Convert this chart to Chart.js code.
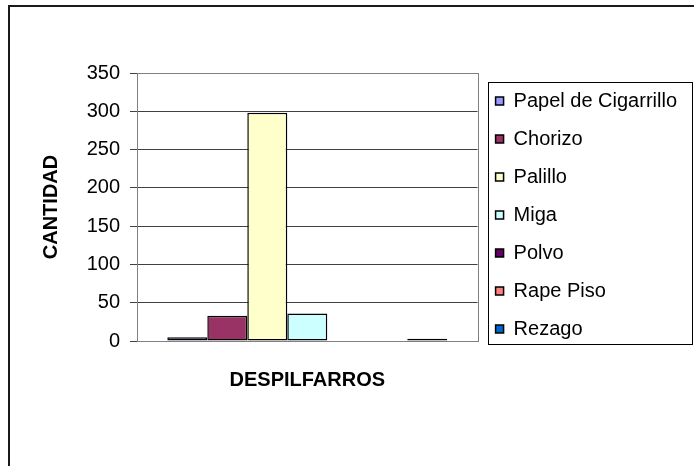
<!DOCTYPE html>
<html>
<head>
<meta charset="utf-8">
<script src="https://cdn.jsdelivr.net/npm/chart.js@4/dist/chart.umd.min.js"></script>
<style>
  html, body { margin: 0; padding: 0; background: #fff; }
</style>
</head>
<body>
<canvas id="graficoDespilfarros" width="694" height="466"></canvas>
<script>
// datos de la planilla
const categorias = [''];
const series = ['Papel de Cigarrillo', 'Chorizo', 'Palillo', 'Miga', 'Polvo', 'Rape Piso', 'Rezago'];
const cantidades = [5, 33, 298, 36, 0, 0, 3];
const colores = ['#9999ff', '#993366', '#ffffcc', '#ccffff', '#660066', '#ff8080', '#0066cc'];
const ticks_y = [0, 50, 100, 150, 200, 250, 300, 350];

Chart.defaults.font.family = '"Liberation Sans", Arial, sans-serif';
Chart.defaults.color = '#000';

// marco exterior, borde del area de trazado y caja de la leyenda
const marcos = {
    id: 'marcos',
    beforeDatasetsDraw(chart) {
        const {ctx, chartArea} = chart;
        ctx.save();
        ctx.strokeStyle = '#808080';
        ctx.lineWidth = 1;
        ctx.strokeRect(Math.round(chartArea.left) + 0.5, Math.round(chartArea.top) + 0.5,
            Math.round(chartArea.right - chartArea.left), Math.round(chartArea.bottom - chartArea.top));
        ctx.restore();
    },
    afterDraw(chart) {
        const {ctx, legend} = chart;
        ctx.save();
        ctx.strokeStyle = '#1a1a1a';
        ctx.lineWidth = 2;
        ctx.strokeRect(9, 6, 800, 600);

        const cajas = legend.legendHitBoxes;
        const primera = cajas[0];
        const ultima = cajas[cajas.length - 1];
        const x0 = Math.round(primera.left) - 8;
        const y0 = Math.round(primera.top) - 9;
        const y1 = Math.round(ultima.top + ultima.height) + 5;
        ctx.strokeStyle = '#000';
        ctx.lineWidth = 1;
        ctx.strokeRect(x0 + 0.5, y0 + 0.5, 692 - x0, y1 - y0);
        ctx.restore();
    }
};

const datasets = series.map((nombre, i) => ({
    label: nombre,
    data: [cantidades[i]],
    backgroundColor: colores[i],
    borderColor: '#000',
    borderWidth: 1.5,
    borderSkipped: false
}));

const ctx = document.getElementById('graficoDespilfarros').getContext('2d');
const grafico = new Chart(ctx, {
    type: 'bar',
    data: {
        labels: categorias,
        datasets: datasets
    },
    options: {
        responsive: false,
        animation: false,
        layout: {
            padding: {top: 73, left: 8, right: 7, bottom: 74}
        },
        datasets: {
            bar: {categoryPercentage: 0.822, barPercentage: 1}
        },
        scales: {
            x: {
                grid: {display: false, drawTicks: false},
                border: {display: true, color: '#000', width: 1},
                ticks: {display: false},
                title: {
                    display: true,
                    text: 'DESPILFARROS',
                    color: '#000',
                    font: {size: 20, weight: 'bold'},
                    padding: {top: 27, bottom: 0}
                }
            },
            y: {
                min: 0,
                max: 350,
                afterBuildTicks: (scale) => {
                    scale.ticks = ticks_y.map(v => ({value: v}));
                },
                afterFit: (scale) => {
                    scale.width = 129;
                },
                grid: {color: '#404040', tickLength: 7},
                border: {color: '#000'},
                ticks: {font: {size: 20}, padding: 10, color: '#000'},
                title: {
                    display: true,
                    text: 'CANTIDAD',
                    color: '#000',
                    font: {size: 20, weight: 'bold'},
                    padding: {top: 31, bottom: 0}
                }
            }
        },
        plugins: {
            legend: {
                position: 'right',
                align: 'start',
                maxWidth: 260,
                labels: {
                    boxWidth: 8,
                    boxHeight: 8,
                    padding: 18,
                    color: '#000',
                    font: {size: 20}
                }
            },
            tooltip: {enabled: false}
        }
    },
    plugins: [marcos]
});
</script>
</body>
</html>
